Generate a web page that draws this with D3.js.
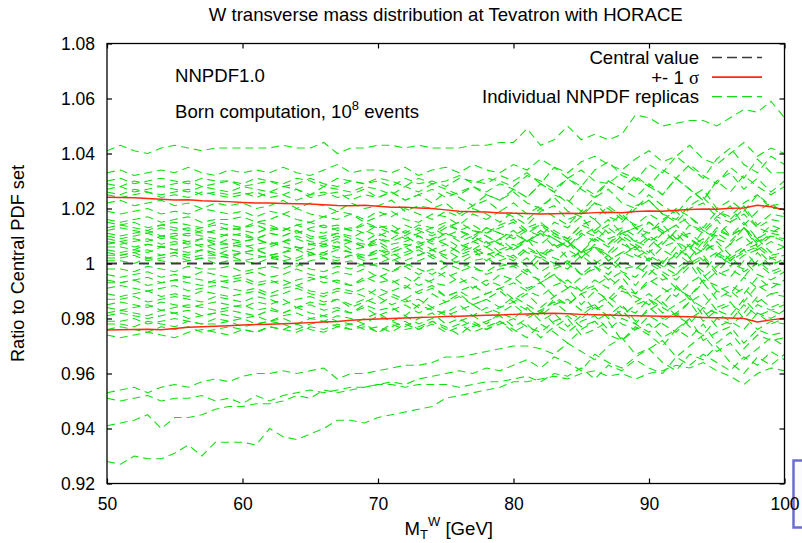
<!DOCTYPE html>
<html>
<head>
<meta charset="utf-8">
<script src="https://cdn.jsdelivr.net/npm/d3@7"></script>
<style>
	body { margin: 0; background: #fff; }
	svg { display: block; font-family: "Liberation Sans", Arial, Helvetica, sans-serif; }
</style>
</head>
<body>
<div id="chart"></div>
<script>
// transverse mass bins (GeV)
var masses = [50,51,52,53,54,55,56,57,58,59,60,61,62,63,64,65,66,67,68,69,70,71,72,73,74,75,
	76,77,78,79,80,81,82,83,84,85,86,87,88,89,90,91,92,93,94,95,96,97,98,99,100];

var xTicks = [50, 60, 70, 80, 90, 100];
var yTicks = [0.92, 0.94, 0.96, 0.98, 1, 1.02, 1.04, 1.06, 1.08];

var centralValue = 1;

// +- 1 sigma band, (ratio - 1) * 1000
var sigmaUpper = [24.1,24.0,23.9,23.6,23.4,23.1,23.2,22.8,22.6,22.5,22.2,22.0,22.0,21.8,21.7,21.6,21.4,21.1,21.0,21.2,
	20.8,20.5,20.5,20.2,20.0,19.5,19.0,18.8,18.7,18.4,18.3,18.2,18.0,18.1,18.3,18.2,18.5,18.6,18.5,18.9,
	19.1,19.0,19.4,19.6,19.8,19.7,20.1,20.2,21.2,20.6,19.5];
var sigmaLower = [-24.2,-24.1,-24.0,-23.9,-24.1,-23.6,-23.2,-23.0,-22.8,-22.6,-22.4,-22.2,-22.1,-21.9,-21.7,-21.5,-21.3,-21.1,-20.6,-20.4,
	-20.2,-20.0,-19.8,-19.6,-19.5,-19.3,-19.2,-19.0,-18.8,-18.7,-18.5,-18.4,-18.2,-18.1,-18.3,-18.5,-18.6,-18.7,-18.9,-19.0,
	-19.1,-19.2,-19.3,-19.4,-19.6,-19.7,-19.8,-20.0,-21.3,-20.5,-19.9];

// individual replicas, (ratio - 1) * 1000, one value per mass bin
var replicas = [
	[41,43,41,40,42,43,42,41,42,42,42,42,42,43,42,42,44,40,42,42,43,43,42,43,42,42,42,43,43,44,44,49,43,45,50,45,47,45,47,54,53,50,51,52,52,50,53,56,55,59,53],
	[33,34,32,33,34,33,35,33,32,34,33,34,33,35,33,32,34,36,33,34,34,33,35,32,34,35,33,36,34,33,36,34,38,35,33,37,39,36,34,38,41,37,39,43,38,36,40,44,39,42,40],
	[30,31,29,30,31,30,29,31,30,30,29,31,30,29,31,30,28,31,30,29,31,30,28,31,29,30,32,29,31,30,28,32,30,27,31,34,30,29,33,31,28,34,31,36,32,29,35,31,38,33,33],
	[29,28,30,29,28,29,30,28,29,30,28,29,30,28,29,31,29,28,30,29,30,28,31,29,30,28,31,30,29,32,30,33,29,35,31,28,34,37,32,30,36,33,39,35,31,38,42,36,33,39,36],
	[27,28,26,27,28,27,26,28,27,26,28,27,26,28,27,25,28,27,26,28,27,25,28,26,29,27,25,28,26,29,27,24,29,26,31,27,24,30,27,32,28,25,31,27,23,30,33,27,31,26,30],
	[26,25,27,26,25,26,27,25,26,25,26,24,26,25,27,24,25,26,23,25,24,26,23,25,22,26,24,21,25,23,26,22,20,25,23,19,24,27,22,20,25,21,18,24,27,20,23,19,25,21,22],
	[25,24,25,26,24,25,24,26,25,24,25,26,24,25,23,25,26,24,25,27,24,26,23,25,27,24,26,28,25,23,27,24,29,26,22,28,25,30,27,24,29,25,31,27,23,30,26,32,28,25,28],
	[22,23,21,22,23,21,22,20,22,21,22,20,21,23,20,22,21,19,22,20,21,23,19,21,20,22,18,21,23,19,22,18,21,24,19,17,22,20,16,21,23,18,15,20,22,17,21,14,19,22,18],
	[19,18,19,20,18,19,18,20,19,18,19,17,19,18,20,18,17,19,18,16,19,17,20,18,16,19,17,20,18,15,19,16,20,17,14,19,16,21,17,14,18,15,20,17,13,19,16,21,14,18,17],
	[16,15,16,17,15,16,17,15,16,16,17,15,16,18,16,15,17,16,18,15,17,19,16,15,18,17,14,18,16,19,17,14,19,21,16,18,22,17,15,20,23,18,16,21,24,19,17,22,25,20,20],
	[15,14,15,13,14,15,14,13,15,14,13,15,14,12,14,15,13,14,12,15,13,14,11,14,13,15,12,14,11,13,15,11,14,12,9,14,16,11,13,10,15,12,8,14,11,16,10,13,9,14,12],
	[13,14,13,12,14,13,12,13,14,12,13,14,12,13,11,13,14,12,13,11,14,12,10,13,11,14,12,10,13,11,9,12,14,10,8,12,10,7,11,13,8,11,14,9,6,12,10,13,7,11,10],
	[12,13,12,11,13,12,13,11,12,13,12,11,13,12,14,12,11,13,12,14,13,11,14,12,10,13,15,12,11,14,16,12,10,15,13,17,11,14,18,13,11,16,19,14,12,17,15,20,13,16,15],
	[11,10,11,12,10,11,10,12,11,10,11,9,11,10,12,10,9,11,10,8,11,9,12,10,8,11,9,12,10,7,11,8,12,9,6,11,8,13,9,6,10,7,12,9,5,11,8,13,6,10,8],
	[10,9,10,11,9,10,11,10,9,11,10,9,11,10,12,9,10,11,9,12,10,12,9,11,13,10,12,9,13,11,10,13,15,11,9,14,12,16,11,13,15,11,14,17,12,10,15,18,13,11,14],
	[9,8,9,8,10,9,8,9,7,9,8,9,7,8,10,8,7,9,8,6,9,7,8,10,7,9,6,8,10,7,5,9,7,11,8,4,9,6,10,7,4,8,11,6,9,3,7,10,5,8,6],
	[8,7,8,9,7,8,7,9,8,7,8,9,7,8,9,7,8,10,8,7,9,8,10,7,9,11,8,10,7,9,12,8,11,9,6,10,13,9,11,8,12,14,9,11,7,13,10,15,9,12,11],
	[7,8,6,7,6,7,8,6,7,7,6,7,8,6,5,7,6,8,5,6,7,4,6,8,5,3,7,5,8,4,6,9,3,5,8,2,6,4,9,3,1,6,8,2,5,7,1,4,6,2,3],
	[6,6,5,7,6,5,6,7,5,6,7,5,6,8,6,5,7,6,8,6,8,5,7,6,9,7,4,8,6,9,5,8,11,6,8,4,10,7,12,8,6,11,8,5,12,9,7,13,8,10,9],
	[5,4,5,4,6,5,4,5,3,5,4,5,3,4,6,4,3,5,4,2,5,3,4,6,3,5,2,4,6,3,1,5,3,7,2,4,6,1,4,2,5,0,3,6,1,4,-1,3,5,0,1],
	[4,3,4,5,3,4,3,5,4,3,4,5,3,4,5,3,4,6,4,3,5,4,6,3,5,7,4,6,3,5,7,4,2,6,8,4,6,3,7,5,9,5,2,7,4,8,3,6,9,4,6],
	[3,3,4,2,3,4,2,3,3,2,4,3,2,3,1,3,4,2,3,1,2,4,1,3,5,2,0,3,4,1,3,-1,4,2,0,5,1,-2,3,6,1,-2,4,0,3,-3,2,5,-1,2,0],
	[2,2,3,1,2,3,1,2,2,3,1,2,3,1,2,4,2,1,3,2,4,1,3,5,2,0,3,5,1,4,2,6,3,0,5,2,7,1,4,6,3,0,6,2,8,4,1,5,7,3,4],
	[1,1,0,2,1,0,1,2,0,1,1,0,2,1,-1,1,2,0,1,-1,0,2,-1,1,3,0,-2,1,2,-1,0,-3,2,-1,1,-4,0,3,-2,-1,-4,1,-2,2,-5,-1,3,-3,0,-4,-2],
	[-2,-2,-3,-1,-2,-3,-1,-2,-2,-1,-3,-2,-1,-2,0,-2,-3,-1,-2,0,-1,-3,0,-2,-4,-1,1,-2,-3,0,-1,2,-3,0,-2,3,-1,-4,1,-2,2,-1,-4,1,-3,3,0,-2,4,-1,2],
	[-4,-5,-4,-3,-5,-4,-5,-3,-4,-5,-4,-3,-5,-4,-2,-4,-5,-3,-4,-2,-5,-3,-1,-4,-2,-5,-3,-1,-4,-2,-1,-4,-6,-2,0,-4,-2,1,-3,-5,0,-3,-6,-1,2,-4,-2,-5,1,-3,-1],
	[-6,-7,-6,-5,-7,-6,-5,-6,-7,-6,-5,-7,-6,-8,-6,-5,-7,-6,-8,-5,-7,-6,-9,-5,-7,-8,-5,-9,-6,-8,-5,-9,-7,-4,-8,-10,-6,-9,-5,-11,-7,-4,-9,-12,-6,-8,-11,-5,-9,-7,-8],
	[-7,-7,-6,-8,-7,-6,-7,-8,-6,-7,-6,-8,-7,-6,-8,-6,-5,-7,-8,-6,-4,-7,-5,-8,-6,-3,-7,-5,-8,-4,-6,-2,-7,-4,-9,-5,-1,-6,-3,-8,-2,-6,-4,0,-7,-3,-5,1,-4,-6,-3],
	[-9,-8,-9,-10,-9,-8,-10,-9,-8,-9,-10,-9,-11,-9,-8,-10,-11,-9,-10,-12,-9,-11,-13,-10,-8,-12,-10,-13,-11,-9,-13,-10,-7,-12,-15,-11,-9,-14,-10,-12,-15,-11,-8,-13,-16,-10,-12,-9,-14,-11,-12],
	[-11,-12,-11,-10,-12,-11,-12,-10,-11,-12,-11,-10,-12,-11,-9,-11,-12,-10,-11,-9,-12,-10,-8,-11,-9,-12,-10,-8,-11,-9,-7,-10,-12,-8,-6,-10,-8,-5,-9,-11,-6,-9,-12,-7,-4,-10,-8,-11,-5,-9,-6],
	[-13,-13,-12,-14,-13,-12,-13,-14,-12,-13,-14,-12,-13,-15,-13,-12,-14,-13,-15,-13,-15,-12,-14,-13,-16,-14,-11,-15,-13,-16,-12,-15,-18,-13,-15,-11,-17,-14,-19,-15,-13,-18,-15,-12,-19,-16,-14,-20,-15,-17,-15],
	[-15,-14,-15,-16,-14,-15,-16,-15,-14,-15,-16,-14,-15,-13,-16,-14,-15,-13,-16,-14,-12,-15,-13,-16,-11,-14,-12,-15,-13,-10,-14,-11,-16,-12,-9,-15,-10,-13,-8,-14,-11,-15,-9,-12,-7,-13,-10,-14,-8,-11,-10],
	[-16,-17,-16,-15,-17,-16,-15,-16,-17,-16,-15,-17,-16,-18,-16,-15,-17,-16,-18,-15,-17,-16,-19,-15,-17,-18,-15,-19,-16,-18,-15,-19,-17,-14,-18,-20,-16,-19,-15,-21,-17,-14,-19,-22,-16,-18,-21,-15,-19,-17,-19],
	[-18,-17,-18,-19,-17,-18,-17,-19,-18,-17,-18,-19,-17,-18,-16,-18,-19,-17,-18,-16,-19,-17,-15,-18,-16,-19,-17,-15,-18,-16,-14,-17,-19,-15,-13,-17,-15,-12,-16,-18,-13,-16,-19,-14,-11,-17,-15,-18,-12,-16,-14],
	[-19,-18,-19,-20,-19,-18,-20,-19,-18,-19,-20,-19,-21,-19,-18,-20,-21,-19,-20,-22,-19,-21,-23,-20,-18,-22,-20,-23,-21,-19,-23,-20,-17,-22,-25,-21,-19,-24,-20,-22,-25,-21,-18,-23,-26,-20,-22,-19,-24,-21,-22],
	[-21,-21,-20,-22,-21,-20,-21,-22,-20,-21,-20,-22,-21,-20,-22,-20,-19,-21,-22,-20,-18,-21,-19,-22,-20,-17,-21,-19,-22,-18,-20,-16,-21,-18,-23,-19,-15,-20,-17,-22,-16,-20,-18,-14,-21,-17,-19,-13,-18,-20,-17],
	[-22,-22,-23,-21,-22,-23,-21,-22,-22,-21,-23,-22,-21,-22,-24,-22,-21,-23,-22,-24,-23,-25,-22,-24,-21,-23,-26,-22,-24,-21,-25,-22,-27,-23,-20,-26,-24,-21,-28,-24,-22,-27,-24,-20,-28,-25,-23,-29,-24,-26,-25],
	[-24,-23,-24,-25,-23,-24,-23,-25,-24,-23,-24,-25,-23,-24,-22,-24,-25,-23,-24,-22,-25,-23,-21,-24,-22,-25,-23,-21,-24,-22,-20,-23,-25,-21,-19,-23,-21,-18,-22,-24,-19,-22,-25,-20,-17,-23,-21,-24,-18,-22,-20],
	[-26,-27,-26,-25,-26,-27,-25,-24,-25,-26,-24,-25,-23,-24,-25,-23,-24,-22,-24,-23,-25,-22,-24,-23,-21,-24,-22,-25,-23,-21,-24,-27,-22,-25,-29,-24,-21,-26,-28,-23,-26,-30,-24,-27,-22,-29,-25,-31,-26,-28,-27],
	[-47,-46,-45,-47,-45,-44,-45,-43,-42,-43,-41,-40,-40,-39,-40,-39,-38,-42,-40,-40,-39,-38,-37,-37,-36,-34,-34,-33,-32,-31,-30,-30,-31,-33,-29,-32,-35,-30,-27,-33,-31,-28,-34,-30,-26,-32,-29,-35,-31,-27,-30],
	[-49,-50,-49,-48,-50,-49,-49,-48,-50,-49,-51,-48,-50,-48,-47,-46,-47,-46,-45,-45,-44,-43,-44,-42,-41,-40,-39,-40,-38,-39,-37,-35,-38,-34,-36,-39,-33,-36,-38,-34,-31,-36,-39,-33,-35,-30,-36,-40,-34,-37,-33],
	[-59,-58,-57,-55,-60,-56,-56,-55,-53,-52,-52,-51,-51,-50,-48,-49,-46,-47,-46,-45,-44,-44,-45,-44,-44,-44,-45,-44,-43,-43,-42,-41,-43,-40,-41,-38,-42,-37,-39,-35,-38,-40,-34,-37,-33,-36,-39,-34,-37,-32,-35],
	[-72,-73,-70,-71,-71,-69,-66,-70,-65,-65,-65,-66,-60,-63,-64,-62,-60,-57,-57,-58,-56,-55,-54,-53,-52,-49,-48,-47,-46,-45,-43,-43,-42,-41,-42,-40,-39,-41,-40,-42,-40,-39,-37,-38,-36,-39,-41,-44,-40,-38,-39]
];

(function () {
	'use strict';

	var width = 802,
		height = 543,
		plot = { left: 107, right: 784.5, top: 43.5, bottom: 483.5 };

	var colors = {
		central: '#3a3a3a',
		sigma: '#ff2a10',
		replica: '#12e012'
	};

	var svg = d3.select('#chart')
		.append('svg')
		.attr('width', width)
		.attr('height', height);

	var x = d3.scaleLinear()
		.domain([50, 100])
		.range([plot.left, plot.right]);

	var y = d3.scaleLinear()
		.domain([0.92, 1.08])
		.range([plot.bottom, plot.top]);

	// stray blue box at the lower right corner of the original page
	svg.append('rect')
		.attr('x', 793.5)
		.attr('y', 460.5)
		.attr('width', 20)
		.attr('height', 67)
		.attr('fill', '#fafaff')
		.attr('stroke', '#6c6cd2')
		.attr('stroke-width', 2.5);

	svg.append('clipPath')
		.attr('id', 'plot-clip')
		.append('rect')
		.attr('x', plot.left)
		.attr('y', plot.top)
		.attr('width', plot.right - plot.left)
		.attr('height', plot.bottom - plot.top);

	var line = d3.line()
		.x(function (d, i) { return x(masses[i]); })
		.y(function (d) { return y(1 + d / 1000); });

	var curves = svg.append('g')
		.attr('clip-path', 'url(#plot-clip)');

	curves.selectAll('.replica')
		.data(replicas)
		.enter()
		.append('path')
		.classed('replica', true)
		.attr('d', line)
		.attr('fill', 'none')
		.attr('stroke', colors.replica)
		.attr('stroke-width', 1.1)
		.attr('stroke-dasharray', '8,5');

	curves.selectAll('.sigma')
		.data([sigmaUpper, sigmaLower])
		.enter()
		.append('path')
		.classed('sigma', true)
		.attr('d', line)
		.attr('fill', 'none')
		.attr('stroke', colors.sigma)
		.attr('stroke-width', 1.5);

	curves.append('line')
		.attr('x1', x(masses[0]))
		.attr('x2', x(masses[masses.length - 1]))
		.attr('y1', y(centralValue))
		.attr('y2', y(centralValue))
		.attr('stroke', colors.central)
		.attr('stroke-width', 1.8)
		.attr('stroke-dasharray', '10,6');

	renderAxes();
	renderTexts();
	renderLegend();

	function styleAxis(g, size) {
		g.select('.domain').remove();
		g.selectAll('.tick line')
			.attr('stroke', '#000')
			.attr('stroke-width', 1.2);
		g.selectAll('.tick text')
			.attr('fill', '#000')
			.style('font-size', size + 'px')
			.style('font-family', '"Liberation Sans", Arial, sans-serif');
	}

	function renderAxes() {
		svg.append('g')
			.attr('transform', 'translate(0,' + plot.bottom + ')')
			.call(d3.axisBottom(x).tickValues(xTicks).tickSizeInner(-5).tickSizeOuter(0).tickPadding(14))
			.call(styleAxis, 17.5);

		svg.append('g')
			.attr('transform', 'translate(0,' + plot.top + ')')
			.call(d3.axisTop(x).tickValues(xTicks).tickSizeInner(-5).tickSizeOuter(0).tickFormat(''))
			.call(styleAxis, 17.5);

		svg.append('g')
			.attr('transform', 'translate(' + plot.left + ',0)')
			.call(d3.axisLeft(y).tickValues(yTicks).tickSizeInner(-5).tickSizeOuter(0).tickPadding(12).tickFormat(d3.format('~g')))
			.call(styleAxis, 17.5);

		svg.append('g')
			.attr('transform', 'translate(' + plot.right + ',0)')
			.call(d3.axisRight(y).tickValues(yTicks).tickSizeInner(-5).tickSizeOuter(0).tickFormat(''))
			.call(styleAxis, 17.5);

		svg.append('rect')
			.attr('x', plot.left)
			.attr('y', plot.top)
			.attr('width', plot.right - plot.left)
			.attr('height', plot.bottom - plot.top)
			.attr('fill', 'none')
			.attr('stroke', '#000')
			.attr('stroke-width', 1.3);
	}

	function renderTexts() {
		svg.append('text')
			.attr('x', (plot.left + plot.right) / 2)
			.attr('y', 21)
			.attr('text-anchor', 'middle')
			.style('font-size', '18.6px')
			.text('W transverse mass distribution at Tevatron with HORACE');

		svg.append('text')
			.attr('x', 175)
			.attr('y', 81.5)
			.style('font-size', '18.6px')
			.text('NNPDF1.0');

		var born = svg.append('text')
			.attr('x', 175)
			.attr('y', 118.3)
			.style('font-size', '18.6px');
		born.append('tspan').text('Born computation, 10');
		born.append('tspan')
			.attr('dy', -8)
			.style('font-size', '13px')
			.text('8');
		born.append('tspan')
			.attr('dy', 8)
			.text(' events');

		svg.append('text')
			.attr('transform', 'translate(24,' + (plot.top + plot.bottom) / 2 + ') rotate(-90)')
			.attr('text-anchor', 'middle')
			.style('font-size', '18.2px')
			.text('Ratio to Central PDF set');

		var xLabel = svg.append('text')
			.attr('x', (plot.left + plot.right) / 2 + 3)
			.attr('y', 534.5)
			.attr('text-anchor', 'middle')
			.style('font-size', '18.6px');
		xLabel.append('tspan').text('M');
		xLabel.append('tspan')
			.attr('dy', 4)
			.style('font-size', '13px')
			.text('T');
		xLabel.append('tspan')
			.attr('dy', -13)
			.style('font-size', '13px')
			.text('W');
		xLabel.append('tspan')
			.attr('dy', 9)
			.text(' [GeV]');
	}

	function renderLegend() {
		var items = [
			{ label: 'Central value', color: colors.central, dash: '10,5', width: 1.4 },
			{ label: '+- 1 ', sigma: true, color: colors.sigma, dash: null, width: 1.6 },
			{ label: 'Individual NNPDF replicas', color: colors.replica, dash: '10,5', width: 1.2 }
		];

		var legend = svg.append('g')
			.classed('legend', true);

		legend.selectAll('.legend-item')
			.data(items)
			.enter()
			.append('g')
			.classed('legend-item', true)
			.attr('transform', function (d, i) { return 'translate(0,' + (64 + i * 19.6) + ')'; })
			.each(function (item) {
				var element = d3.select(this);

				var label = element.append('text')
					.attr('x', 699)
					.attr('text-anchor', 'end')
					.style('font-size', '18.6px')
					.text(item.label);

				if (item.sigma) {
					label.append('tspan')
						.style('font-family', '"Liberation Serif", "Times New Roman", serif')
						.text('σ');
				}

				element.append('line')
					.attr('x1', 712)
					.attr('x2', 762)
					.attr('y1', -6.5)
					.attr('y2', -6.5)
					.attr('stroke', item.color)
					.attr('stroke-width', item.width)
					.attr('stroke-dasharray', item.dash);
			});
	}
}());
</script>
</body>
</html>
